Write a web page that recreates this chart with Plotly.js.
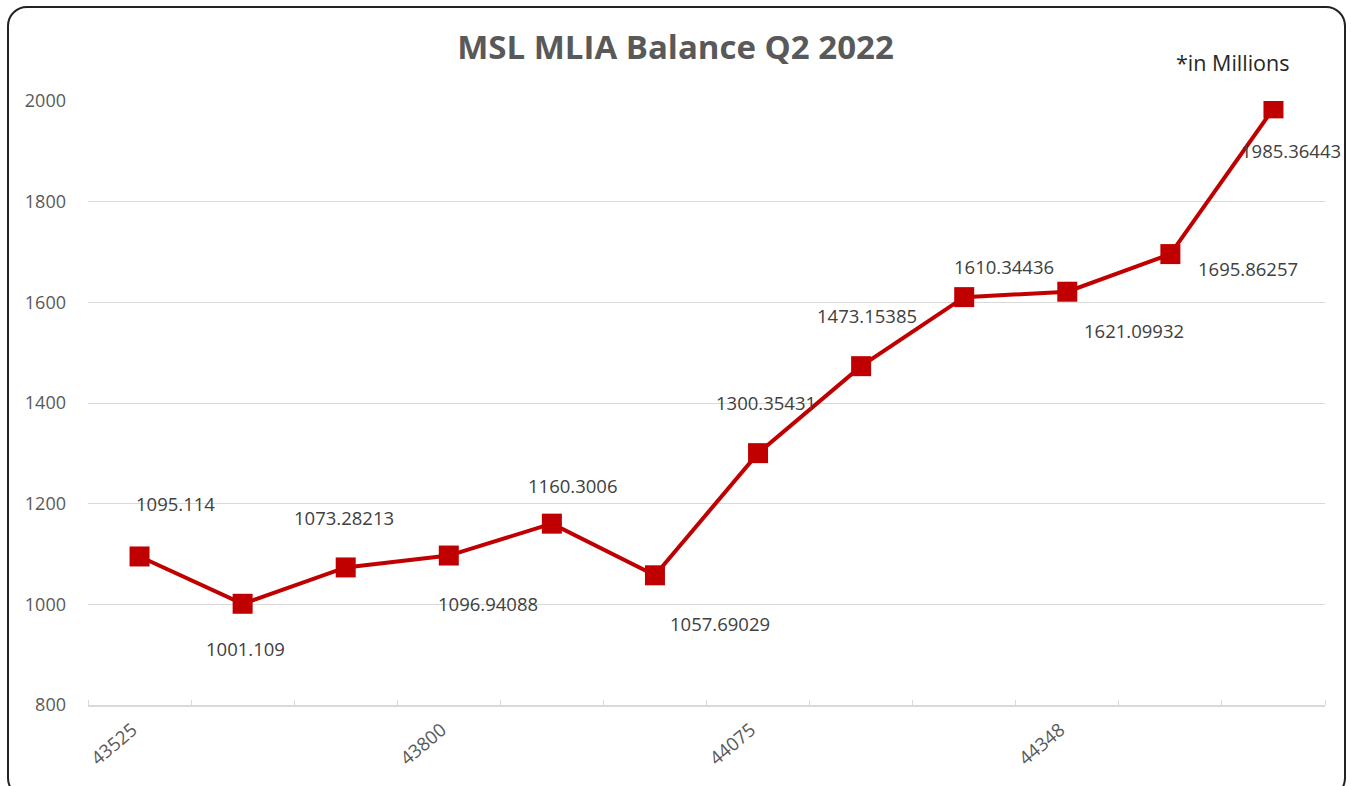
<!DOCTYPE html>
<html>
<head>
<meta charset="utf-8">
<script src="https://cdn.plot.ly/plotly-3.0.1.min.js"></script>
<style>
html,body{margin:0;padding:0;background:#fff;}
#chart{position:absolute;left:0;top:0;width:1351px;height:786px;}
#frame{position:absolute;left:7px;top:6px;width:1339px;height:792px;border:2px solid #222;border-radius:20px;pointer-events:none;box-sizing:border-box;}
</style>
</head>
<body>
<div id="chart"></div>
<div id="frame"></div>
<script>
// Data
const categories = ["43525","43617","43709","43800","43891","43983","44075","44166","44256","44348","44440","44531"];
const values = [1095.114, 1001.109, 1073.28213, 1096.94088, 1160.3006, 1057.69029, 1300.35431, 1473.15385, 1610.34436, 1621.09932, 1695.86257, 1985.36443];
const labelTexts = ["1095.114","1001.109","1073.28213","1096.94088","1160.3006","1057.69029","1300.35431","1473.15385","1610.34436","1621.09932","1695.86257","1985.36443"];
const shownTickEvery = 3;

// label offsets (styling only)
const labelShift = [[36,53],[3,-45],[-2,50],[39,-48],[21,38],[65,-48],[8,51],[6,51],[40,31],[67,-39],[78,-14],[18,-42]];

const xIdx = categories.map((c,i)=>i);
const tickvals = xIdx.filter(i=>i%shownTickEvery===0);
const ticktext = tickvals.map(i=>categories[i]);

const FONT = 'Open Sans, sans-serif';

const trace = {
  x: xIdx, y: values, type:'scatter', mode:'lines+markers',
  line:{color:'#c00000', width:4},
  marker:{symbol:'square', size:20, color:'#c00000'},
  hoverinfo:'skip'
};

const annotations = values.map((v,i)=>({
  x: xIdx[i], y: v, xref:'x', yref:'y', text: labelTexts[i], showarrow:false,
  xshift: labelShift[i][0], yshift: labelShift[i][1],
  font:{family:FONT, size:18.5, color:'#404040'}
}));
annotations.push({
  xref:'paper', yref:'paper', x:0.925, y:1, yshift:39, xanchor:'center', yanchor:'middle',
  text:'*in Millions', showarrow:false,
  font:{family:FONT, size:21.5, color:'#262626'}
});

const layout = {
  width:1351, height:786,
  margin:{l:88, r:26, t:101, b:81},
  paper_bgcolor:'#fff', plot_bgcolor:'#fff',
  showlegend:false,
  title:{text:'<b>MSL MLIA Balance Q2 2022</b>', x:0.5, xanchor:'center', y:0.939, yanchor:'middle',
    font:{family:FONT, size:33, color:'#595959'}},
  xaxis:{
    type:'linear', range:[-0.5, 11.5], tickvals:tickvals, ticktext:ticktext, tickangle:-40,
    showgrid:false, zeroline:false, showline:true, linecolor:'#d9d9d9', linewidth:2,
    ticks:'', ticklabelstandoff:5, ticklabelshift:-7, tickfont:{family:FONT, size:18.5, color:'#595959'},
    minor:{ticks:'inside', tick0:-0.5, dtick:1, ticklen:5, tickcolor:'#d9d9d9', tickwidth:1, showgrid:false},
    fixedrange:true
  },
  yaxis:{
    range:[800,2000], dtick:200, tick0:800, showgrid:true, gridcolor:'#d9d9d9', gridwidth:1,
    zeroline:false, showline:false, ticks:'', ticklabelstandoff:21,
    tickfont:{family:FONT, size:18, color:'#595959'}, fixedrange:true
  },
  annotations: annotations
};

Plotly.newPlot('chart', [trace], layout, {displayModeBar:false, staticPlot:true});
</script>
</body>
</html>
